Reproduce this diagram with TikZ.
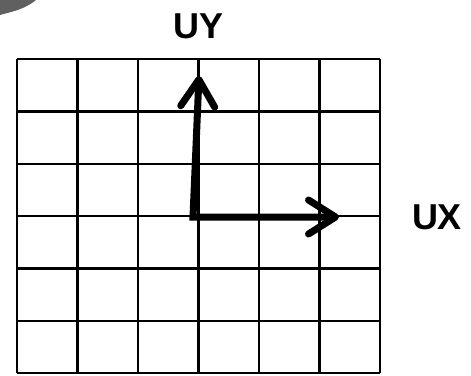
\documentclass[tikz,border=0pt]{standalone}
\usepackage{fontspec}
\setmainfont{Liberation Sans}
\usetikzlibrary{arrows.meta}
\tikzset{
	gridline/.style = {line width = 2.4pt, black},
	axisarrow/.style = {line width = 7pt, line join = miter,
		{Straight Barb[length = 27pt, width = 34pt, round]}-{Straight Barb[length = 27pt, width = 34pt, round]}},
	axislabel/.style = {font = \bfseries\fontsize{36}{36}\selectfont, inner sep = 0pt}
}
\begin{document}
\begin{tikzpicture}[x = 1pt, y = -1pt]
	\useasboundingbox (0,0) rectangle (471,375);
	% smudge in the corner
	\fill[gray!75!black] (0,0) -- (36,0) .. controls (24,10) and (10,12) .. (0,15) -- cycle;
	% grid
	\foreach \gx in {17, 77.5, 138, 198.5, 259, 319.5, 380}
		\draw[gridline] (\gx,59) -- (\gx,373);
	\foreach \gy in {59, 111.3, 163.7, 216, 268.3, 320.7, 373}
		\draw[gridline] (17,\gy) -- (380,\gy);
	% axes
	\coordinate (origin) at (193,217);
	\coordinate (tipy) at (199,76);
	\coordinate (tipx) at (339,217);
	\draw[axisarrow] (tipy) -- (origin) -- (tipx);
	\node[axislabel] (uy) at (199,26) {UY};
	\node[axislabel] (ux) at (437,217) {UX};
\end{tikzpicture}
\end{document}
